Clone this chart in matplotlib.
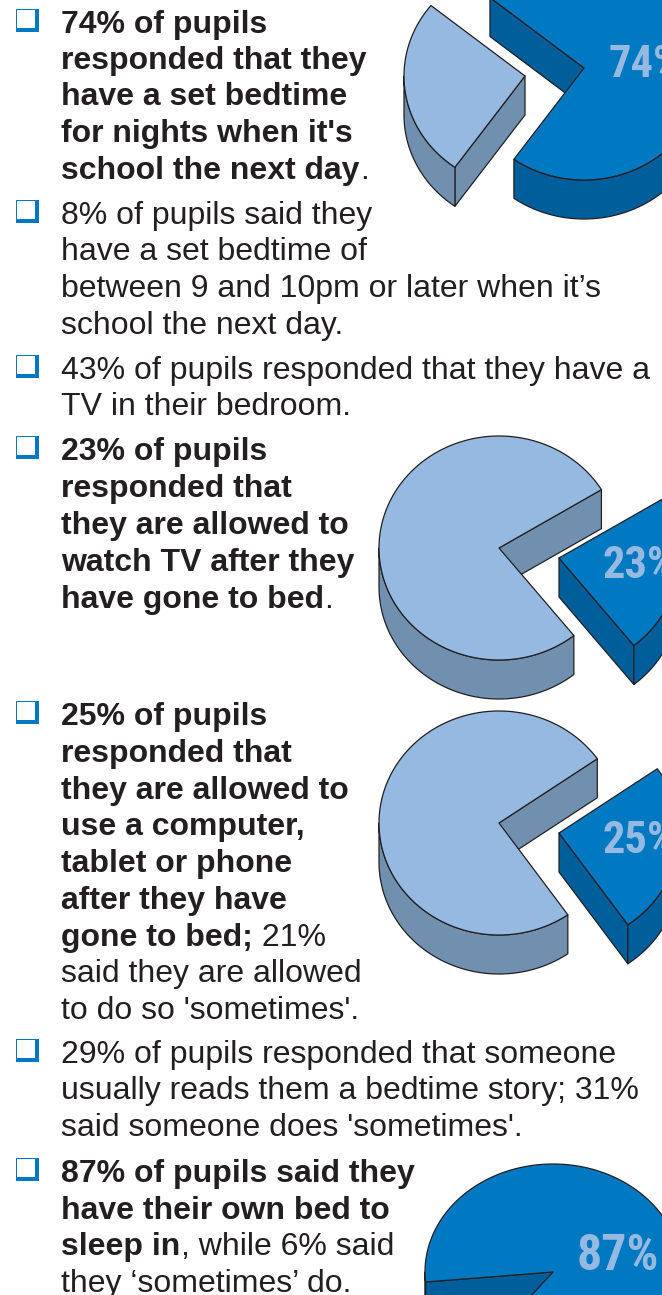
import numpy as np
import matplotlib
matplotlib.use("Agg")
import matplotlib.pyplot as plt
from matplotlib.patches import Polygon, Rectangle

plt.rcParams["font.family"] = ["Liberation Sans", "DejaVu Sans"]

# text of each bullet, one entry per line; * switches bold on and off
bedtime_lines = ["*74% of pupils*", "*responded that they*", "*have a set bedtime*",
                 "*for nights when it's*", "*school the next day*."]
late_lines = ["8% of pupils said they", "have a set bedtime of",
              "between 9 and 10pm or later when it’s", "school the next day."]
tv_lines = ["43% of pupils responded that they have a", "TV in their bedroom."]
tv_bed_lines = ["*23% of pupils*", "*responded that*", "*they are allowed to*",
                "*watch TV after they*", "*have gone to bed*."]
computer_lines = ["*25% of pupils*", "*responded that*", "*they are allowed to*",
                  "*use a computer,*", "*tablet or phone*", "*after they have*",
                  "*gone to bed;* 21%", "said they are allowed", "to do so 'sometimes'."]
story_lines = ["29% of pupils responded that someone", "usually reads them a bedtime story; 31%",
               "said someone does 'sometimes'."]
own_bed_lines = ["*87% of pupils said they*", "*have their own bed to*",
                 "*sleep in*, while 6% said", "they ‘sometimes’ do."]

# share of pupils saying yes, one per pie
bedtime_share = 74
tv_bed_share = 23
computer_share = 25
own_bed_share = 87

TEXT = "#231f20"
LIGHT = "#95b9e1"
LIGHT_SIDE = "#7190b0"
DARK = "#0079c2"
DARK_SIDE = "#005e9a"
EDGE = "#231f20"
DEPTH = 39

fig = plt.figure(figsize=(6.62, 12.95), dpi=100)
ax = fig.add_axes([0, 0, 1, 1])
ax.set_xlim(0, 662)
ax.set_ylim(1295, 0)
ax.axis("off")


def ell(cx, cy, rx, ry, t):
    t = np.radians(t)
    return np.column_stack([cx + rx * np.cos(t), cy - ry * np.sin(t)])


def poly(pts, color):
    ax.add_patch(Polygon(pts, closed=True, facecolor=color, edgecolor=EDGE, lw=0.9, joinstyle="round"))


def slice3d(cx, cy, rx, ry, t1, t2, top, side):
    apex = np.array([[cx, cy]])
    down = np.array([0, DEPTH])
    # cut faces, only the one turned towards the viewer
    if np.cos(np.radians(t1)) > 0:
        a = ell(cx, cy, rx, ry, [t1])
        poly(np.vstack([apex, a, a + down, apex + down]), side)
    if np.cos(np.radians(t2)) < 0:
        a = ell(cx, cy, rx, ry, [t2])
        poly(np.vstack([apex, a, a + down, apex + down]), side)
    # rim along the front half of the ellipse
    for k in (-1, 0, 1):
        lo = max(t1, 180 + 360 * k)
        hi = min(t2, 360 + 360 * k)
        if hi > lo:
            arc = ell(cx, cy, rx, ry, np.linspace(lo, hi, 80))
            poly(np.vstack([arc, (arc + down)[::-1]]), side)
    arc = ell(cx, cy, rx, ry, np.linspace(t1, t2, 200))
    poly(np.vstack([apex, arc]), top)


def bullet(y):
    ax.add_patch(Rectangle((16, y), 23, 23, facecolor=DARK, edgecolor="none"))
    ax.add_patch(Rectangle((17.3, y + 1.4), 17.7, 17.6, facecolor="white", edgecolor="none"))


def write_lines(lines, baselines):
    bullet(baselines[0] - 24)
    r = fig.canvas.get_renderer()
    for line, y in zip(lines, baselines):
        x = 61
        for i, part in enumerate(line.split("*")):
            if not part:
                continue
            t = ax.text(x, y, part, fontsize=23, color=TEXT, va="baseline", ha="left",
                        fontweight="bold" if i % 2 else "normal")
            # leading spaces are not measured by the extent
            w = t.get_window_extent(r).width
            if part.startswith(" "):
                w += 8
            x += w + 0.5


# 74% pie, the small slice pulled out to the left
t_split = 141
sweep = bedtime_share * 3.6
slice3d(584, 68, 121, 112, t_split + 360 - sweep, t_split + 360, DARK, DARK_SIDE)
slice3d(525, 76, 121, 112, t_split, t_split + 360 - sweep, LIGHT, LIGHT_SIDE)

# the two bedtime-screen pies have the same layout
for share, dy in ((tv_bed_share, 0), (computer_share, 275)):
    half = share * 1.8
    slice3d(499, 548 + dy, 120, 112, -10 + half, 350 - half, LIGHT, LIGHT_SIDE)
    slice3d(559, 558 + dy, 120, 112, -10 - half, -10 + half, DARK, DARK_SIDE)

# own bed pie runs off the bottom of the page
sweep = own_bed_share * 3.6
slice3d(553, 1272, 128, 108, 185.3 - sweep, 185.3, DARK, DARK_SIDE)

pct = dict(color=LIGHT, fontweight="bold",
           family=["Roboto Condensed", "Encode Sans Condensed", "Liberation Sans"],
           va="baseline", ha="left")
ax.text(609, 77, f"{bedtime_share}%", fontsize=32, **pct)
ax.text(602, 578, f"{tv_bed_share}%", fontsize=32, **pct)
ax.text(602, 853, f"{computer_share}%", fontsize=32, **pct)
ax.text(577, 1270, f"{own_bed_share}%", fontsize=36, **pct)

write_lines(bedtime_lines, [33, 69, 105, 142, 179])
write_lines(late_lines, [224, 260, 297, 334])
write_lines(tv_lines, [379, 415])
write_lines(tv_bed_lines, [460, 497, 534, 571, 608])
write_lines(computer_lines, [725, 762, 799, 835, 872, 909, 946, 982, 1019])
write_lines(story_lines, [1063, 1099, 1136])
write_lines(own_bed_lines, [1182, 1219, 1255, 1292])

fig.savefig("out.png", dpi=100, facecolor="white")
